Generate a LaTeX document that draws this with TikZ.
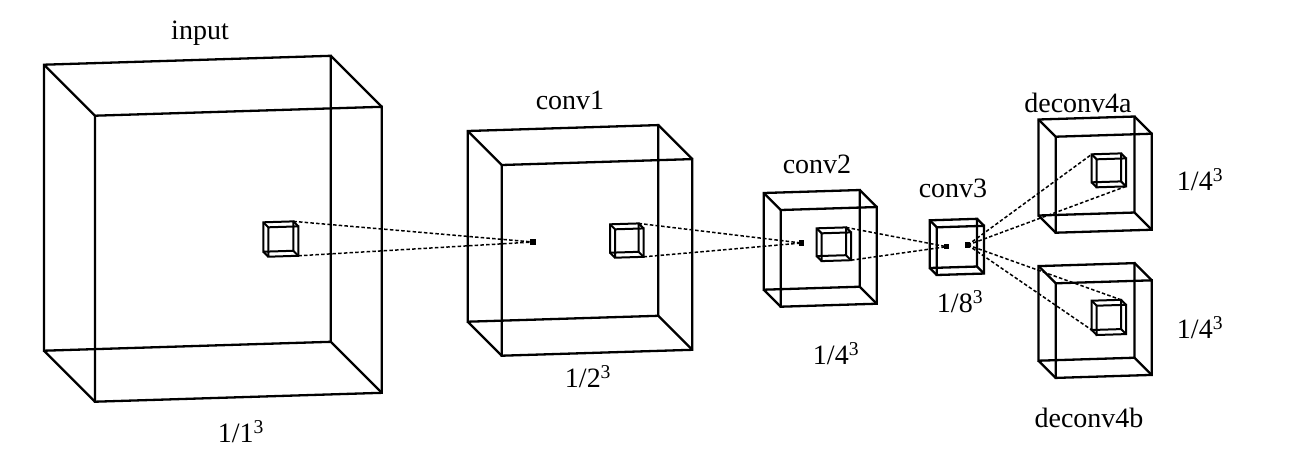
\documentclass[tikz,border=0pt]{standalone}
\usepackage{fontspec}
\setmainfont{Liberation Serif}
\usetikzlibrary{calc}
\tikzset{
  cubeline/.style={line width=2.3pt, line join=miter},
  smallline/.style={line width=2pt, line join=miter},
  dashline/.style={line width=1.5pt, dash pattern=on 3.5pt off 2.2pt},
  marker/.style={rectangle, fill=black, inner sep=0pt, minimum size=5.5pt},
  lbl/.style={inner sep=0pt, font=\fontsize{28}{32}\selectfont}
}
% name, x, y (front top-left), width, height, depth, style
\newcommand{\mycube}[7]{%
  \coordinate (#1-fTL) at (#2,#3);
  \coordinate (#1-fTR) at (#2+#4,#3-0.031*#4);
  \coordinate (#1-fBL) at (#2,#3+#5);
  \coordinate (#1-fBR) at (#2+#4,#3+#5-0.031*#4);
  \coordinate (#1-bTL) at (#2-#6,#3-#6);
  \coordinate (#1-bTR) at (#2+#4-#6,#3-0.031*#4-#6);
  \coordinate (#1-bBL) at (#2-#6,#3+#5-#6);
  \coordinate (#1-bBR) at (#2+#4-#6,#3+#5-0.031*#4-#6);
  \draw[#7] (#1-bTL)--(#1-bTR)--(#1-bBR)--(#1-bBL)--cycle;
  \draw[#7] (#1-fTL)--(#1-fTR)--(#1-fBR)--(#1-fBL)--cycle;
  \draw[#7] (#1-fTL)--(#1-bTL) (#1-fTR)--(#1-bTR) (#1-fBL)--(#1-bBL) (#1-fBR)--(#1-bBR);
}
\begin{document}
\begin{tikzpicture}[x=1pt,y=-1pt]
\useasboundingbox (0,0) rectangle (1297,448);
\fill[white] (0,0) rectangle (1297,448);

% big cubes
\mycube{input}{95}{115.7}{286.7}{286}{51}{cubeline}
\mycube{conva}{501.7}{165}{190.6}{190.7}{34}{cubeline}
\mycube{convb}{780.7}{210}{96}{96.7}{17}{cubeline}
\mycube{convc}{936.7}{227.3}{47.3}{47.7}{7}{cubeline}
\mycube{deca}{1055.7}{136.7}{96}{96}{17.2}{cubeline}
\mycube{decb}{1055.7}{283.3}{96}{94.6}{17.2}{cubeline}

% small cubes
\mycube{sin}{268.3}{227.3}{30}{29.4}{5}{smallline}
\mycube{sca}{615}{229.3}{28.5}{28.4}{5}{smallline}
\mycube{scb}{821.7}{233.3}{29.3}{27.8}{5}{smallline}
\mycube{sda}{1096.7}{159.3}{29.3}{28}{5}{smallline}
\mycube{sdb}{1096.7}{305.7}{29.3}{29.3}{5}{smallline}

% markers
\node[marker] (m1) at (533,242) {};
\node[marker] (m2) at (801.5,243) {};
\node[marker] (m3l) at (946.7,246.7) {};
\node[marker] (m3r) at (967.7,245) {};

% dashed connectors
\draw[dashline] (sin-bTR) -- (m1.center);
\draw[dashline] (sin-fBR) -- (m1.center);
\draw[dashline] (sca-bTR) -- (m2.center);
\draw[dashline] (sca-fBR) -- (m2.center);
\draw[dashline] (scb-bTR) -- (m3l.center);
\draw[dashline] (scb-fBR) -- (m3l.center);
\draw[dashline] (m3r.center) -- (sda-bTL);
\draw[dashline] (m3r.center) -- (sda-fBR);
\draw[dashline] (m3r.center) -- (sdb-bTR);
\draw[dashline] (m3r.center) -- (sdb-bBL);

% labels
\node[lbl] (tinput) at (200,33) {input};
\node[lbl] (sinput) at (241,432) {1/1\textsuperscript{3}};
\node[lbl] (tconva) at (570,100) {conv1};
\node[lbl] (sconva) at (588,377) {1/2\textsuperscript{3}};
\node[lbl] (tconvb) at (817,164) {conv2};
\node[lbl] (sconvb) at (836,354) {1/4\textsuperscript{3}};
\node[lbl] (tconvc) at (953,188) {conv3};
\node[lbl] (sconvc) at (960,302) {1/8\textsuperscript{3}};
\node[lbl] (tdeca) at (1078,103) {deconv4a};
\node[lbl] (sdeca) at (1200,180) {1/4\textsuperscript{3}};
\node[lbl] (sdecb) at (1200,328) {1/4\textsuperscript{3}};
\node[lbl] (tdecb) at (1089,418) {deconv4b};
\end{tikzpicture}
\end{document}
